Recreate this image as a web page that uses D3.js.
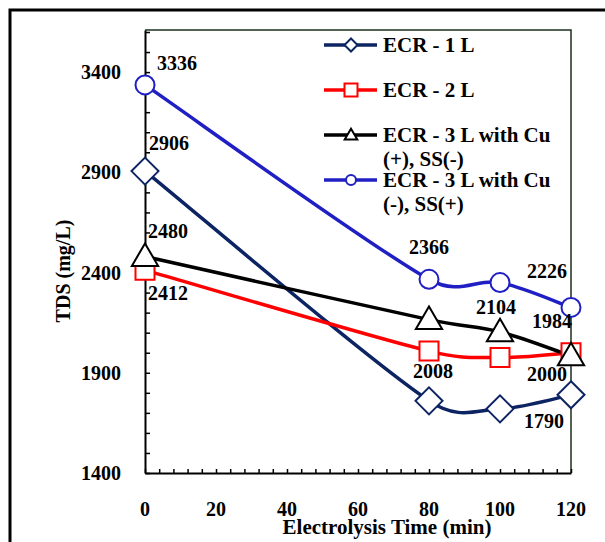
<!DOCTYPE html>
<html>
<head>
<meta charset="utf-8">
<script src="https://cdn.jsdelivr.net/npm/d3@7"></script>
<style>
  body { margin: 0; background: #fff; }
  text { font-family: "Liberation Serif", "Times New Roman", serif; font-weight: bold; }
</style>
</head>
<body>
<script>
var w = 605;
var h = 542;

// data
var times = [0, 80, 100, 120];
var ecr1 = [2906, 1760, 1720, 1790];
var ecr2 = [2412, 2008, 1976, 2000];
var ecr3a = [2480, 2165, 2104, 1984];
var ecr3b = [3336, 2366, 2350, 2226];
var seriesNames = ["ECR - 1 L", "ECR - 2 L", "ECR - 3 L with Cu|(+), SS(-)", "ECR - 3 L with Cu|(-), SS(+)"];
var xTickLabels = [0, 20, 40, 60, 80, 100, 120];
var yTickLabels = [1400, 1900, 2400, 2900, 3400];

// data labels: [series index, point index, text, dx, dy]
var dataLabels = [
  [3, 0, "3336", 32, -15],
  [0, 0, "2906", 24, -21],
  [2, 0, "2480", 23, -19],
  [1, 0, "2412", 23, 30],
  [3, 1, "2366", 0, -25],
  [1, 1, "2008", 4, 27],
  [2, 2, "2104", -4, -18],
  [3, 3, "2226", -24, -29],
  [2, 3, "1984", -19, -28],
  [1, 3, "2000", -24, 28],
  [0, 3, "1790", -27, 33]
];

var series = [
  {name: seriesNames[0], values: ecr1, color: "#0d2462", marker: "diamond"},
  {name: seriesNames[1], values: ecr2, color: "#ff0000", marker: "square"},
  {name: seriesNames[2], values: ecr3a, color: "#000000", marker: "triangle"},
  {name: seriesNames[3], values: ecr3b, color: "#1f1fc4", marker: "circle"}
];

var pLeft = 145, pRight = 571, pTop = 30, pBottom = 473;

var x = d3.scaleLinear().domain([0, 120]).range([pLeft, pRight]);
var y = d3.scaleLinear().domain([1400, 3610]).range([pBottom, pTop]);

var svg = d3.select("body").append("svg")
  .attr("width", w)
  .attr("height", h);

// outer frame
svg.append("rect")
  .attr("x", 10).attr("y", 10)
  .attr("width", 620).attr("height", 560)
  .attr("fill", "none").attr("stroke", "#000").attr("stroke-width", 3);

// plot frame top / right
svg.append("path")
  .attr("d", "M" + pLeft + "," + pTop + "H" + pRight + "V" + pBottom)
  .attr("fill", "none").attr("stroke", "#1d2f1d").attr("stroke-width", 1.5);

// axes
var xAxis = d3.axisBottom(x)
  .tickValues(d3.range(0, 121, 4))
  .tickSizeInner(-4).tickSizeOuter(0)
  .tickFormat("");
var gx = svg.append("g").attr("transform", "translate(0," + pBottom + ")").call(xAxis);
gx.select(".domain").attr("stroke-width", 2);
gx.selectAll(".tick line").attr("stroke-width", 1.5);

var yAxis = d3.axisLeft(y)
  .tickValues(d3.range(1400, 3601, 100))
  .tickSizeInner(-5).tickSizeOuter(0)
  .tickFormat("");
var gy = svg.append("g").attr("transform", "translate(" + pLeft + ",0)").call(yAxis);
gy.select(".domain").attr("stroke-width", 2);
gy.selectAll(".tick line").attr("stroke-width", 1.5);

svg.selectAll("text.xlab")
  .data(xTickLabels)
  .enter().append("text")
  .attr("class", "xlab")
  .attr("x", function(d) { return x(d); })
  .attr("y", 516)
  .attr("text-anchor", "middle")
  .attr("font-size", 20)
  .text(function(d) { return d; });

svg.selectAll("text.ylab")
  .data(yTickLabels)
  .enter().append("text")
  .attr("class", "ylab")
  .attr("x", 121)
  .attr("y", function(d) { return y(d) + 7; })
  .attr("text-anchor", "end")
  .attr("font-size", 20)
  .text(function(d) { return d; });

svg.append("text")
  .attr("x", 387).attr("y", 534)
  .attr("text-anchor", "middle")
  .attr("font-size", 21)
  .text("Electrolysis Time (min)");

svg.append("text")
  .attr("transform", "translate(70,271) rotate(-90)")
  .attr("text-anchor", "middle")
  .attr("font-size", 20)
  .text("TDS (mg/L)");

// excel-like smoothed line through the scaled points
function smoothPath(pts) {
  var p = d3.path();
  function dist(a, b) { return Math.hypot(b[0] - a[0], b[1] - a[1]); }
  p.moveTo(pts[0][0], pts[0][1]);
  for (var i = 0; i < pts.length - 1; i++) {
    var p0 = pts[Math.max(i - 1, 0)], p1 = pts[i], p2 = pts[i + 1], p3 = pts[Math.min(i + 2, pts.length - 1)];
    var d12 = dist(p1, p2);
    var f1 = Math.min(1 / 6, 0.5 * d12 / (dist(p0, p2) || 1));
    var f2 = Math.min(1 / 6, 0.5 * d12 / (dist(p1, p3) || 1));
    p.bezierCurveTo(
      p1[0] + (p2[0] - p0[0]) * f1, p1[1] + (p2[1] - p0[1]) * f1,
      p2[0] - (p3[0] - p1[0]) * f2, p2[1] - (p3[1] - p1[1]) * f2,
      p2[0], p2[1]);
  }
  return p.toString();
}

svg.selectAll("path.series")
  .data(series)
  .enter().append("path")
  .attr("class", "series")
  .attr("d", function(s) {
    return smoothPath(s.values.map(function(v, i) { return [x(times[i]), y(v)]; }));
  })
  .attr("fill", "none")
  .attr("stroke", function(s) { return s.color; })
  .attr("stroke-width", 3.5);

function markerPath(type, size) {
  var r = size;
  if (type == "diamond") return "M0," + (-r) + "L" + r + ",0L0," + r + "L" + (-r) + ",0Z";
  if (type == "square") return "M" + (-r) + "," + (-r) + "H" + r + "V" + r + "H" + (-r) + "Z";
  if (type == "triangle") return "M0," + (-r * 1.05) + "L" + (r * 1.05) + "," + (r * 0.75) + "L" + (-r * 1.05) + "," + (r * 0.75) + "Z";
  return "M" + r + ",0A" + r + "," + r + " 0 1,1 " + (-r) + ",0A" + r + "," + r + " 0 1,1 " + r + ",0Z";
}
var bigSize = {diamond: 13.5, square: 9.5, triangle: 12.5, circle: 9.5};
var smallSize = {diamond: 6.5, square: 6.5, triangle: 6, circle: 5};

series.forEach(function(s) {
  svg.selectAll(null)
    .data(s.values)
    .enter().append("path")
    .attr("transform", function(d, i) { return "translate(" + x(times[i]) + "," + y(d) + ")"; })
    .attr("d", markerPath(s.marker, bigSize[s.marker]))
    .attr("fill", "#fff")
    .attr("stroke", s.color)
    .attr("stroke-width", 2);
});

// data labels
svg.selectAll("text.dlab")
  .data(dataLabels)
  .enter().append("text")
  .attr("class", "dlab")
  .attr("x", function(d) { return x(times[d[1]]) + d[3]; })
  .attr("y", function(d) { return y(series[d[0]].values[d[1]]) + d[4]; })
  .attr("text-anchor", "middle")
  .attr("font-size", 20)
  .text(function(d) { return d[2]; });

// legend
var legendY = [45, 90, 135, 180];
var leg = svg.selectAll("g.leg")
  .data(series)
  .enter().append("g")
  .attr("class", "leg")
  .attr("transform", function(d, i) { return "translate(324," + legendY[i] + ")"; });

leg.append("line")
  .attr("x1", 0).attr("x2", 53)
  .attr("stroke", function(d) { return d.color; })
  .attr("stroke-width", 3.5);
leg.append("path")
  .attr("transform", "translate(27,0)")
  .attr("d", function(d) { return markerPath(d.marker, smallSize[d.marker]); })
  .attr("fill", "#fff")
  .attr("stroke", function(d) { return d.color; })
  .attr("stroke-width", 2);
leg.append("text")
  .attr("x", 59).attr("y", 7)
  .attr("font-size", 21)
  .each(function(d) {
    var parts = d.name.split("|");
    var t = d3.select(this);
    parts.forEach(function(p, k) {
      t.append("tspan").attr("x", 59).attr("dy", k == 0 ? 0 : 24).text(p);
    });
  });
</script>
</body>
</html>
